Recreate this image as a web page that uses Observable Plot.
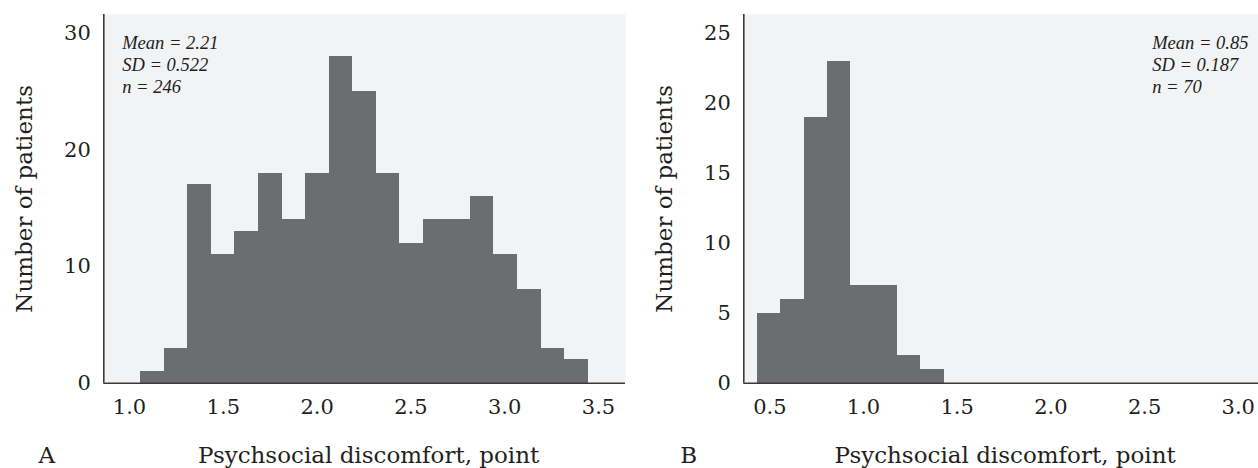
<!DOCTYPE html>
<html>
<head>
<meta charset="utf-8">
<script src="https://cdn.jsdelivr.net/npm/d3@7"></script>
<script src="https://cdn.jsdelivr.net/npm/@observablehq/plot@0.6"></script>
<style>
  html, body { margin: 0; padding: 0; background: #fff; }
  #wrap { display: flex; flex-direction: row; width: 1258px; height: 468px; overflow: hidden; }
  #wrap svg { display: block; flex: none; }
</style>
</head>
<body>
<div id="wrap"></div>
<script>
// ---- Data ----
const xTitle = "Psychsocial discomfort, point";
const yTitle = "Number of patients";

// Panel A
const aEdges = [1.06, 1.186, 1.311, 1.437, 1.562, 1.688, 1.813, 1.939, 2.064, 2.19, 2.315, 2.441, 2.566, 2.692, 2.817, 2.943, 3.068, 3.194, 3.319, 3.445];
const aCounts = [1, 3, 17, 11, 13, 18, 14, 18, 28, 25, 18, 12, 14, 14, 16, 11, 8, 3, 2];
const aXTicks = [1.0, 1.5, 2.0, 2.5, 3.0, 3.5];
const aYTicks = [0, 10, 20, 30];
const aStats = ["Mean = 2.21", "SD = 0.522", "n = 246"];

// Panel B
const bEdges = [0.434, 0.559, 0.683, 0.808, 0.932, 1.057, 1.181, 1.306, 1.43];
const bCounts = [5, 6, 19, 23, 7, 7, 2, 1];
const bXTicks = [0.5, 1.0, 1.5, 2.0, 2.5, 3.0];
const bYTicks = [0, 5, 10, 15, 20, 25];
const bStats = ["Mean = 0.85", "SD = 0.187", "n = 70"];

// ---- Styling ----
const BAR = "#6c6d71";
const BG = "#f2f3f5";
const AXIS = "#3a3a3a";
const INK = "#231f20";
const FONT = "DejaVu Serif";

function panel({edges, counts, xTicks, yTicks, stats, letter, width, marginRight, xDomain, yDomain, statsDx}) {
  const bins = counts.map((c, i) => ({x1: edges[i], x2: edges[i + 1], y: c}));
  return Plot.plot({
    width, height: 468,
    marginLeft: 103.3, marginRight, marginTop: 14, marginBottom: 85.3,
    style: {fontFamily: FONT, color: INK, background: "transparent", overflow: "visible"},
    x: {domain: xDomain, ticks: xTicks, tickFormat: d3.format(".1f")},
    y: {domain: yDomain, ticks: yTicks},
    marks: [
      Plot.frame({fill: BG, stroke: null}),
      Plot.rectY(bins, {x1: "x1", x2: "x2", y: "y", fill: BAR, shapeRendering: "crispEdges"}),
      Plot.ruleY([0], {stroke: AXIS, strokeWidth: 1.6}),
      Plot.ruleX([xDomain[0]], {stroke: AXIS, strokeWidth: 1.6}),
      Plot.axisX({ticks: xTicks, tickFormat: d3.format(".1f"), tickSize: 0, tickPadding: 16, fontSize: 21, label: null, fill: INK}),
      Plot.axisY({ticks: yTicks, tickSize: 0, tickPadding: 13, fontSize: 21, label: null, fill: INK}),
      Plot.text([stats.join("\n")], {
        frameAnchor: "top-left", textAnchor: "start", lineAnchor: "top",
        dx: statsDx, dy: 18.6, lineHeight: 1.2,
        fontFamily: "Liberation Serif", fontStyle: "italic", fontSize: 18.5, fill: INK
      }),
      Plot.text([xTitle], {frameAnchor: "bottom", textAnchor: "middle", lineAnchor: "middle", dx: 4, dy: 72, fontSize: 23, fill: INK}),
      Plot.text([yTitle], {frameAnchor: "left", textAnchor: "middle", lineAnchor: "middle", rotate: -90, dx: -78.7, fontSize: 23, fill: INK}),
      Plot.text([letter], {frameAnchor: "bottom-left", textAnchor: "middle", lineAnchor: "middle", dx: letter === "A" ? -57 : -55, dy: 72, fontSize: 23, fill: INK})
    ]
  });
}

const wrap = document.getElementById("wrap");
wrap.append(panel({
  edges: aEdges, counts: aCounts, xTicks: aXTicks, yTicks: aYTicks, stats: aStats, letter: "A",
  width: 640, marginRight: 15, xDomain: [0.863, 3.644], yDomain: [0, 31.6], statsDx: 18.4
}));
wrap.append(panel({
  edges: bEdges, counts: bCounts, xTicks: bXTicks, yTicks: bYTicks, stats: bStats, letter: "B",
  width: 618, marginRight: 0, xDomain: [0.361, 3.108], yDomain: [0, 26.33], statsDx: 408.4
}));
</script>
</body>
</html>
